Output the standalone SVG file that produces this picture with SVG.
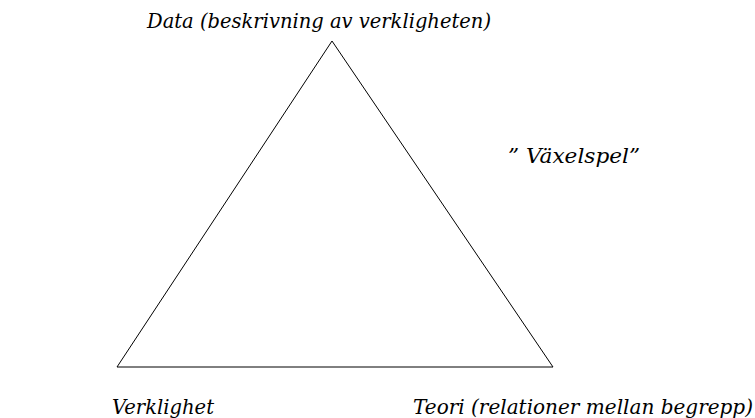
<svg xmlns="http://www.w3.org/2000/svg" width="755" height="418" viewBox="0 0 755 418">
<style>
.lbl{font-family:'DejaVu Serif','Liberation Serif',serif;font-style:italic;font-size:20px;fill:#000}
.edge{stroke:#000;stroke-width:1;fill:none}
</style>
<rect width="755" height="418" fill="#fff"/>
<g id="connectors">
<polygon class="edge" points="332,41 117,367 553,367"/>
</g>
<g id="node-data"><text class="lbl" x="147" y="28" textLength="344" lengthAdjust="spacingAndGlyphs">Data (beskrivning av verkligheten)</text></g>
<g id="node-vaxelspel"><text class="lbl" x="508" y="163" textLength="132" lengthAdjust="spacingAndGlyphs">” Växelspel”</text></g>
<g id="node-verklighet"><text class="lbl" x="112" y="414" textLength="102" lengthAdjust="spacingAndGlyphs">Verklighet</text></g>
<g id="node-teori"><text class="lbl" x="413" y="414" textLength="340" lengthAdjust="spacingAndGlyphs">Teori (relationer mellan begrepp)</text></g>
</svg>
